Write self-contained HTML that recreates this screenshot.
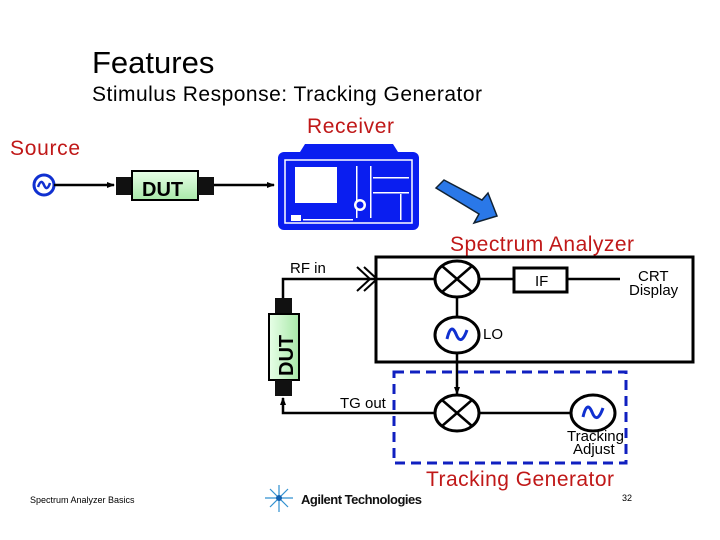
<!DOCTYPE html>
<html><head><style>
html,body{margin:0;padding:0;background:#fff;}
svg{display:block;}
text{font-family:"Liberation Sans",Arial,sans-serif;}
</style></head><body>
<svg width="720" height="540" viewBox="0 0 720 540" xmlns="http://www.w3.org/2000/svg">
<defs>
<marker id="ah" markerWidth="8" markerHeight="8" refX="7" refY="4" orient="auto" markerUnits="userSpaceOnUse"><path d="M0,1 L8,4 L0,7 Z" fill="#000"/></marker>
<linearGradient id="g" x1="0" y1="0" x2="0" y2="1"><stop offset="0" stop-color="#e8ffe8"/><stop offset="1" stop-color="#a8e8a8"/></linearGradient>
<linearGradient id="gv" x1="0" y1="0" x2="1" y2="0"><stop offset="0" stop-color="#e8ffe8"/><stop offset="1" stop-color="#a8e8a8"/></linearGradient>
</defs>
<text x="92" y="73" font-size="31" fill="#000">Features</text>
<text x="92" y="101" font-size="21" fill="#000" textLength="390">Stimulus Response: Tracking Generator</text>
<text x="10" y="155" font-size="21" fill="#c01818" textLength="70">Source</text>
<text x="307" y="133" font-size="21" fill="#c01818" textLength="87">Receiver</text>
<text x="450" y="251" font-size="21" fill="#c01818" textLength="184">Spectrum Analyzer</text>
<text x="426" y="486" font-size="21" fill="#c01818" textLength="188">Tracking Generator</text>

<!-- source -->
<circle cx="44" cy="185" r="10" fill="none" stroke="#1030d0" stroke-width="3"/>
<path d="M38,187 Q41,178 44,185 Q47,192 50,183" fill="none" stroke="#1030d0" stroke-width="2.5"/>
<line x1="54" y1="185" x2="114" y2="185" stroke="#000" stroke-width="2.5" marker-end="url(#ah)"/>
<!-- DUT horizontal -->
<rect x="116" y="177" width="16" height="18" fill="#111"/>
<rect x="132" y="171" width="66" height="29" fill="url(#g)" stroke="#000" stroke-width="2"/>
<rect x="198" y="177" width="16" height="18" fill="#111"/>
<text x="142" y="196" font-size="20" font-weight="bold" fill="#000">DUT</text>
<line x1="214" y1="185" x2="274" y2="185" stroke="#000" stroke-width="2.5" marker-end="url(#ah)"/>

<!-- instrument -->
<rect x="278" y="152" width="141" height="78" rx="6" fill="#0a1ef0"/>
<path d="M300,152 L305,144 L393,144 L398,152 Z" fill="#0a1ef0"/>
<rect x="285" y="160" width="127" height="63" fill="none" stroke="#fff" stroke-width="1.5"/>
<rect x="295" y="167" width="42" height="36" fill="#fff"/>
<rect x="356" y="166" width="1.5" height="52" fill="#fff"/>
<rect x="370" y="166" width="1.5" height="52" fill="#fff"/>
<rect x="400" y="194" width="1.5" height="26" fill="#fff"/>
<rect x="373" y="177" width="36" height="1.5" fill="#fff"/>
<rect x="373" y="192" width="36" height="1.5" fill="#fff"/>
<circle cx="360" cy="205" r="6" fill="#fff"/>
<circle cx="360" cy="205" r="3.5" fill="#0a1ef0"/>
<rect x="291" y="215" width="10" height="6" fill="#fff"/>
<rect x="303" y="219" width="50" height="1.5" fill="#fff"/>

<!-- big arrow -->
<path d="M436,188 L444,180 L482,200 L488,193 L497,216 L474,223 L479,214 Z" fill="#2a78e8" stroke="#123" stroke-width="1.5"/>

<!-- SA box -->
<rect x="376" y="257" width="317" height="105" fill="none" stroke="#000" stroke-width="3"/>
<text x="290" y="273" font-size="15">RF in</text>
<polyline points="283,300 283,279 376,279" fill="none" stroke="#000" stroke-width="2.5"/>
<path d="M357,267 L370,279 L357,291" fill="none" stroke="#000" stroke-width="2"/>
<path d="M364,267 L377,279 L364,291" fill="none" stroke="#000" stroke-width="2"/>
<line x1="376" y1="279" x2="435" y2="279" stroke="#000" stroke-width="2.5"/>
<!-- mixer1 -->
<ellipse cx="457" cy="279" rx="22" ry="18" fill="#fff" stroke="#000" stroke-width="3"/>
<line x1="442" y1="266" x2="472" y2="292" stroke="#000" stroke-width="2.5"/>
<line x1="472" y1="266" x2="442" y2="292" stroke="#000" stroke-width="2.5"/>
<line x1="479" y1="279" x2="514" y2="279" stroke="#000" stroke-width="2.5"/>
<rect x="514" y="268" width="53" height="24" fill="#fff" stroke="#000" stroke-width="3"/>
<text x="535" y="286" font-size="15">IF</text>
<line x1="567" y1="279" x2="620" y2="279" stroke="#000" stroke-width="2.5"/>
<text x="638" y="281" font-size="15">CRT</text>
<text x="629" y="295" font-size="15">Display</text>
<line x1="457" y1="297" x2="457" y2="317" stroke="#000" stroke-width="2.5"/>
<!-- LO -->
<ellipse cx="457" cy="335" rx="22" ry="18" fill="#fff" stroke="#000" stroke-width="3"/>
<path d="M447,339 Q451,322 456,334 Q461,347 467,330" fill="none" stroke="#1030d0" stroke-width="3"/>
<text x="483" y="339" font-size="15">LO</text>
<line x1="457" y1="353" x2="457" y2="394" stroke="#000" stroke-width="2.5" marker-end="url(#ah)"/>

<!-- TG box -->
<rect x="394" y="372" width="232" height="91" fill="none" stroke="#1020c0" stroke-width="3" stroke-dasharray="10,6"/>
<ellipse cx="457" cy="413" rx="22" ry="18" fill="#fff" stroke="#000" stroke-width="3"/>
<line x1="442" y1="400" x2="472" y2="426" stroke="#000" stroke-width="2.5"/>
<line x1="472" y1="400" x2="442" y2="426" stroke="#000" stroke-width="2.5"/>
<line x1="479" y1="413" x2="571" y2="413" stroke="#000" stroke-width="2.5"/>
<ellipse cx="593" cy="413" rx="22" ry="18" fill="#fff" stroke="#000" stroke-width="3"/>
<path d="M583,417 Q587,400 592,412 Q597,425 603,408" fill="none" stroke="#1030d0" stroke-width="3"/>
<text x="567" y="441" font-size="15">Tracking</text>
<text x="573" y="454" font-size="15">Adjust</text>
<text x="340" y="408" font-size="15">TG out</text>
<polyline points="435,413 283,413 283,398" fill="none" stroke="#000" stroke-width="2.5" marker-end="url(#ah)"/>

<!-- DUT vertical -->
<rect x="275" y="298" width="17" height="16" fill="#111"/>
<rect x="269" y="314" width="30" height="66" fill="url(#gv)" stroke="#000" stroke-width="2"/>
<rect x="275" y="380" width="17" height="16" fill="#111"/>
<text x="0" y="0" font-size="20" font-weight="bold" transform="translate(293,376) rotate(-90)">DUT</text>

<!-- footer -->
<text x="30" y="503" font-size="9">Spectrum Analyzer Basics</text>
<g stroke="#3090d0" stroke-width="1.2">
<line x1="279" y1="485" x2="279" y2="512"/><line x1="265" y1="498" x2="293" y2="498"/>
<line x1="270" y1="489" x2="288" y2="507"/><line x1="288" y1="489" x2="270" y2="507"/>
</g>
<circle cx="279" cy="498" r="3" fill="#1060b0"/>
<text x="301" y="504" font-size="13" font-weight="bold" fill="#111" textLength="121">Agilent Technologies</text>
<text x="622" y="501" font-size="9">32</text>
</svg>
</body></html>
